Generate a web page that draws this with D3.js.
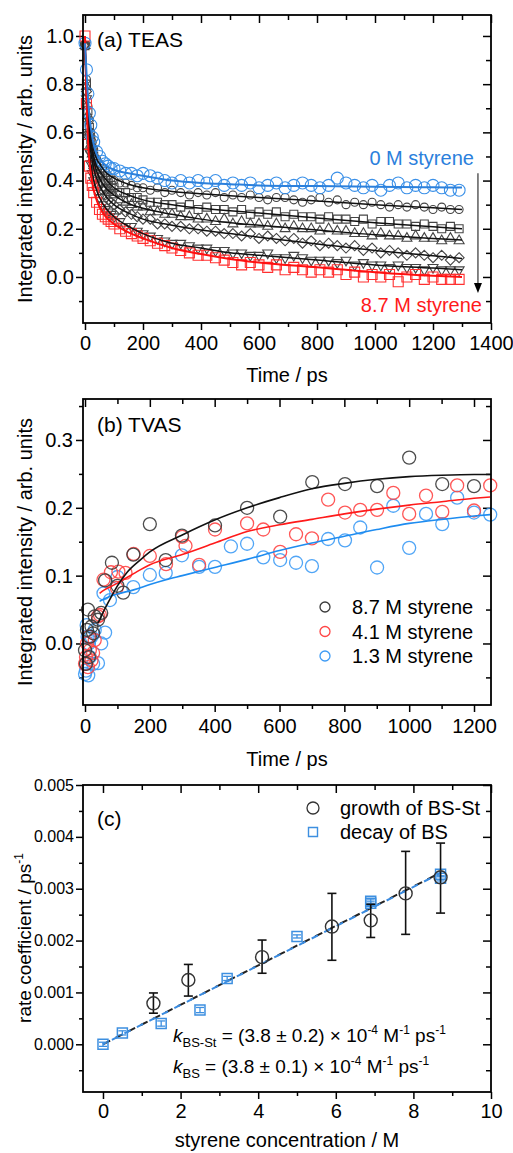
<!DOCTYPE html>
<html><head><meta charset="utf-8">
<script src="https://cdn.jsdelivr.net/npm/d3@7"></script>
<style>body{margin:0;background:#fff}svg{display:block}</style>
</head><body><svg id="c" width="513" height="1153"></svg>
<script>
// ================= DATA =================
// (a) TEAS
const teasTime = [0,5,10,15,20,25,30,40,50,60,70,80,90,100,120,140,160,180,200,225,250,275,300,330,360,390,420,450,480,510,540,570,600,630,660,690,720,750,780,810,840,870,900,930,960,990,1020,1050,1080,1110,1140,1170,1200,1230,1260,1290];
const teas0M = [0.97,0.86,0.76,0.68,0.63,0.58,0.56,0.52,0.50,0.48,0.47,0.46,0.45,0.45,0.44,0.43,0.43,0.42,0.43,0.42,0.41,0.40,0.39,0.40,0.39,0.40,0.39,0.40,0.38,0.39,0.38,0.39,0.37,0.38,0.39,0.37,0.38,0.39,0.38,0.37,0.38,0.41,0.39,0.38,0.37,0.38,0.36,0.38,0.39,0.37,0.38,0.37,0.38,0.37,0.36,0.36];
const teasCircle = [0.96,0.82,0.71,0.65,0.60,0.56,0.53,0.49,0.47,0.45,0.44,0.42,0.41,0.40,0.39,0.39,0.38,0.37,0.37,0.36,0.37,0.35,0.36,0.35,0.34,0.35,0.34,0.35,0.33,0.34,0.33,0.34,0.33,0.32,0.33,0.33,0.32,0.31,0.32,0.33,0.31,0.32,0.30,0.31,0.30,0.31,0.30,0.29,0.30,0.29,0.30,0.29,0.28,0.29,0.28,0.28];
const teasSquare = [0.96,0.80,0.69,0.62,0.57,0.53,0.50,0.46,0.43,0.42,0.40,0.39,0.38,0.37,0.35,0.35,0.33,0.33,0.32,0.31,0.31,0.30,0.30,0.29,0.30,0.28,0.29,0.28,0.28,0.27,0.28,0.26,0.27,0.26,0.27,0.25,0.26,0.25,0.25,0.24,0.25,0.24,0.24,0.23,0.24,0.22,0.23,0.23,0.22,0.22,0.21,0.22,0.21,0.20,0.21,0.20];
const teasTriUp = [0.96,0.79,0.67,0.60,0.55,0.51,0.47,0.44,0.41,0.39,0.37,0.36,0.35,0.34,0.32,0.31,0.30,0.29,0.29,0.27,0.27,0.26,0.26,0.25,0.25,0.24,0.24,0.23,0.24,0.22,0.23,0.22,0.22,0.21,0.22,0.20,0.21,0.20,0.20,0.19,0.20,0.19,0.19,0.18,0.18,0.17,0.18,0.17,0.17,0.16,0.17,0.16,0.16,0.15,0.16,0.15];
const teasDiamond = [0.96,0.77,0.65,0.58,0.52,0.48,0.45,0.41,0.38,0.36,0.34,0.32,0.31,0.30,0.28,0.27,0.26,0.25,0.24,0.24,0.22,0.22,0.21,0.21,0.20,0.20,0.19,0.19,0.18,0.18,0.17,0.18,0.16,0.17,0.16,0.15,0.16,0.14,0.15,0.13,0.14,0.13,0.12,0.13,0.11,0.12,0.10,0.11,0.10,0.09,0.10,0.09,0.08,0.09,0.07,0.08];
const teasTriDown = [0.96,0.74,0.60,0.52,0.47,0.43,0.40,0.36,0.33,0.30,0.28,0.27,0.26,0.25,0.23,0.21,0.21,0.19,0.18,0.17,0.16,0.15,0.14,0.14,0.13,0.12,0.12,0.11,0.11,0.10,0.10,0.09,0.09,0.10,0.08,0.08,0.09,0.08,0.07,0.07,0.07,0.06,0.07,0.05,0.06,0.05,0.05,0.04,0.05,0.04,0.04,0.03,0.04,0.03,0.03,0.03];
const teas87M = [1.00,0.72,0.55,0.46,0.41,0.38,0.35,0.31,0.28,0.26,0.25,0.24,0.23,0.22,0.20,0.19,0.18,0.17,0.16,0.15,0.14,0.13,0.12,0.11,0.10,0.09,0.09,0.08,0.07,0.06,0.05,0.06,0.05,0.04,0.05,0.03,0.04,0.03,0.02,0.03,0.02,0.03,0.01,0.02,0.00,0.01,0.00,0.01,-0.02,0.00,0.01,-0.01,0.00,-0.01,-0.01,-0.01];
const teasFitTime = [0,5,10,15,20,30,40,50,75,100,150,200,300,400,500,600,800,1000,1200,1300];
const teasFit0M = [0.97,0.85,0.75,0.67,0.62,0.55,0.51,0.49,0.46,0.445,0.43,0.42,0.40,0.39,0.385,0.38,0.377,0.374,0.372,0.371];
const teasFitCircle = [0.96,0.82,0.72,0.65,0.60,0.53,0.49,0.47,0.43,0.41,0.385,0.37,0.355,0.345,0.337,0.33,0.315,0.30,0.287,0.28];
const teasFitSquare = [0.96,0.80,0.70,0.62,0.57,0.50,0.46,0.44,0.40,0.37,0.34,0.32,0.30,0.285,0.275,0.265,0.245,0.225,0.208,0.20];
const teasFitTriUp = [0.96,0.79,0.68,0.60,0.55,0.48,0.44,0.41,0.365,0.34,0.305,0.285,0.26,0.24,0.225,0.215,0.195,0.175,0.16,0.153];
const teasFitDiamond = [0.96,0.77,0.66,0.58,0.52,0.45,0.41,0.38,0.33,0.30,0.265,0.24,0.215,0.195,0.18,0.165,0.137,0.11,0.088,0.077];
const teasFitTriDown = [0.96,0.74,0.61,0.52,0.47,0.40,0.36,0.33,0.28,0.25,0.21,0.18,0.14,0.12,0.10,0.09,0.07,0.05,0.037,0.03];
const teasFit87M = [1.0,0.74,0.57,0.48,0.43,0.36,0.32,0.29,0.245,0.22,0.185,0.16,0.12,0.095,0.075,0.06,0.04,0.02,0.005,0.0];
const teasXTicks = [0,200,400,600,800,1000,1200,1400];
const teasXMinor = [100,300,500,700,900,1100,1300];
const teasYTicks = [0,0.2,0.4,0.6,0.8,1.0];
const teasYMinor = [-0.1,0.1,0.3,0.5,0.7,0.9];

// (b) TVAS
const tvasTime87 = [0,3,6,9,12,15,20,25,30,40,50,62,83,100,118,149,200,249,299,401,500,602,701,802,901,1000,1102,1200];
const tvas87 = [-0.01,-0.03,0.02,0.05,-0.02,0.01,0.025,0.015,0.04,0.035,0.045,0.093,0.119,0.085,0.075,0.131,0.176,0.123,0.159,0.174,0.200,0.187,0.238,0.235,0.232,0.274,0.235,0.232];
const tvasTime41 = [0,3,6,9,12,15,20,25,30,40,46,57,80,98,103,125,150,200,250,300,310,352,401,500,550,602,651,700,750,802,849,901,951,1000,1052,1102,1148,1200,1250];
const tvas41 = [-0.03,-0.02,0.0,-0.035,0.01,-0.01,-0.025,-0.014,0.005,0.04,0.042,0.094,0.105,0.082,0.106,0.104,0.132,0.129,0.117,0.157,0.144,0.116,0.168,0.177,0.168,0.135,0.161,0.155,0.212,0.193,0.197,0.197,0.222,0.191,0.218,0.194,0.233,0.196,0.233];
const tvasTime13 = [0,3,5,8,10,12,15,20,25,30,40,50,57,62,77,100,149,200,249,299,352,401,450,500,550,602,651,700,750,802,849,901,951,1000,1052,1102,1148,1200,1250];
const tvas13 = [-0.045,-0.04,0.027,0.01,-0.047,0.0,-0.02,0.01,-0.03,0.02,-0.029,0.0,0.074,0.016,0.064,0.098,0.083,0.101,0.104,0.130,0.113,0.113,0.143,0.147,0.127,0.123,0.119,0.114,0.154,0.152,0.171,0.112,0.203,0.141,0.191,0.176,0.215,0.193,0.190];
const tvasFitTime87 = [40,60,80,100,130,170,200,300,400,500,600,700,800,900,1000,1100,1200,1250];
const tvasFit87 = [0.03,0.05,0.068,0.085,0.105,0.123,0.135,0.160,0.182,0.200,0.215,0.228,0.236,0.242,0.246,0.248,0.249,0.249];
const tvasFitTime41 = [45,60,80,100,150,200,300,400,500,600,700,800,900,1000,1100,1200,1250];
const tvasFit41 = [0.074,0.079,0.084,0.089,0.103,0.116,0.131,0.148,0.165,0.175,0.183,0.191,0.198,0.204,0.209,0.214,0.216];
const tvasFitTime13 = [45,60,80,100,150,200,250,300,400,500,600,700,800,900,1000,1100,1200,1250];
const tvasFit13 = [0.062,0.066,0.070,0.073,0.079,0.087,0.094,0.100,0.112,0.124,0.137,0.148,0.158,0.168,0.177,0.183,0.188,0.190];
const tvasLegend = ["8.7 M styrene","4.1 M styrene","1.3 M styrene"];
const tvasXTicks = [0,200,400,600,800,1000,1200];
const tvasXMinor = [100,300,500,700,900,1100];
const tvasYTicks = [0,0.1,0.2,0.3];
const tvasYMinor = [-0.05,0.05,0.15,0.25,0.35];

// (c) rate coefficients
const growthConc = [1.3,2.2,4.1,5.9,6.9,7.8,8.7];
const growthRate = [0.00079,0.00124,0.00168,0.00227,0.00239,0.00291,0.00322];
const growthErrLo = [0.00060,0.00093,0.00137,0.00162,0.00206,0.00212,0.00253];
const growthErrHi = [0.00099,0.00154,0.00201,0.00291,0.00270,0.00372,0.00388];
const decayConc = [0,0.5,1.5,2.5,3.2,5.0,6.9,6.9,8.7,8.7];
const decayRate = [0.0,0.00022,0.00040,0.00066,0.00127,0.00208,0.00272,0.00276,0.00328,0.00320];
const decayErr = [0.00004,0.00004,0.00005,0.00005,0.00004,0.00003,0.00004,0.00004,0.00005,0.00005];
const fitConc = [0,8.7];
const fitGrowth = [0,0.00331];
const fitDecay = [0,0.00330];
const rateLegend = ["growth of BS-St","decay of BS"];
const rateXTicks = [0,2,4,6,8,10];
const rateXMinor = [1,3,5,7,9];
const rateYTicks = [0,0.001,0.002,0.003,0.004,0.005];
const rateYMinor = [-0.0005,0.0005,0.0015,0.0025,0.0035,0.0045];

// ================= DRAWING =================
const FONT = '"Liberation Sans", Arial, Helvetica, sans-serif';
const svg = d3.select("#c").attr("font-family", FONT);
svg.append("rect").attr("width",513).attr("height",1153).attr("fill","#fff");

function panel(o){
  const x = d3.scaleLinear().domain(o.xd).range([o.l,o.r]);
  const y = d3.scaleLinear().domain(o.yd).range([o.b,o.t]);
  const g = svg.append("g");
  const style = (sel, fs) => {
    sel.select(".domain").remove();
    sel.selectAll("line").attr("stroke","#000").attr("stroke-width",1.5);
    sel.selectAll("text").attr("font-size",fs).attr("font-family",FONT).attr("fill","#000");
  };
  g.append("g").attr("transform",`translate(0,${o.b})`)
    .call(d3.axisBottom(x).tickValues(o.xMaj).tickSize(7).tickPadding(o.xPad).tickFormat(o.xFmt)).call(s=>style(s,o.xFs));
  g.append("g").attr("transform",`translate(0,${o.b})`)
    .call(d3.axisBottom(x).tickValues(o.xMin).tickSize(4).tickFormat("")).call(s=>style(s,10));
  g.append("g").attr("transform",`translate(0,${o.t})`)
    .call(d3.axisTop(x).tickValues(o.xMaj).tickSize(-8).tickFormat("")).call(s=>style(s,10));
  g.append("g").attr("transform",`translate(0,${o.t})`)
    .call(d3.axisTop(x).tickValues(o.xMin).tickSize(-5).tickFormat("")).call(s=>style(s,10));
  g.append("g").attr("transform",`translate(${o.l},0)`)
    .call(d3.axisLeft(y).tickValues(o.yMaj).tickSize(7).tickPadding(o.yPad).tickFormat(o.yFmt)).call(s=>style(s,o.yFs));
  g.append("g").attr("transform",`translate(${o.l},0)`)
    .call(d3.axisLeft(y).tickValues(o.yMin).tickSize(4).tickFormat("")).call(s=>style(s,10));
  g.append("g").attr("transform",`translate(${o.r},0)`)
    .call(d3.axisRight(y).tickValues(o.yMaj).tickSize(-8).tickFormat("")).call(s=>style(s,10));
  g.append("g").attr("transform",`translate(${o.r},0)`)
    .call(d3.axisRight(y).tickValues(o.yMin).tickSize(-5).tickFormat("")).call(s=>style(s,10));
  const data = svg.append("g");
  svg.append("rect").attr("x",o.l).attr("y",o.t).attr("width",o.r-o.l).attr("height",o.b-o.t)
    .attr("fill","none").attr("stroke","#000").attr("stroke-width",1.8);
  return {x,y,data};
}

function shape(type, s){
  const h = s/2;
  if(type==="square") return `M${-h},${-h}h${s}v${s}h${-s}Z`;
  if(type==="triUp"){ const t=s*0.866; return `M0,${-2*t/3}L${h},${t/3}L${-h},${t/3}Z`; }
  if(type==="triDown"){ const t=s*0.866; return `M0,${2*t/3}L${h},${-t/3}L${-h},${-t/3}Z`; }
  if(type==="diamond") return `M0,${-h}L${h},0L0,${h}L${-h},0Z`;
  return d3.arc()({innerRadius:0,outerRadius:h,startAngle:0,endAngle:2*Math.PI});
}

// ---------- panel (a) ----------
{
  const P = panel({l:83,r:491,t:15,b:323, xd:[-6.9,1400], yd:[-0.191,1.087],
    xMaj:teasXTicks, xMin:teasXMinor, yMaj:teasYTicks, yMin:teasYMinor,
    xFmt:d3.format("d"), yFmt:d3.format(".1f"), xPad:6, yPad:2, xFs:20, yFs:20});
  const {x,y,data} = P;
  const series = [
    {v:teasCircle, f:teasFitCircle, type:"circle", s:8, c:"#454545", lc:"#111", lw:1.5},
    {v:teasSquare, f:teasFitSquare, type:"square", s:8, c:"#454545", lc:"#111", lw:1.5},
    {v:teasTriUp, f:teasFitTriUp, type:"triUp", s:10, c:"#454545", lc:"#111", lw:1.5},
    {v:teasDiamond, f:teasFitDiamond, type:"diamond", s:10, c:"#454545", lc:"#111", lw:1.5},
    {v:teasTriDown, f:teasFitTriDown, type:"triDown", s:10, c:"#454545", lc:"#111", lw:1.5},
    {v:teas87M, f:teasFit87M, type:"square", s:10, c:"#ff3030", lc:"#ff1010", lw:2},
    {v:teas0M, f:teasFit0M, type:"circle", s:12, c:"#3a90e8", lc:"#2b80dc", lw:2}
  ];
  series.forEach(se=>{
    data.append("g").selectAll("path").data(teasTime.map((t,i)=>[t,se.v[i]])).join("path")
      .attr("transform",d=>`translate(${x(d[0])},${y(d[1])})`)
      .attr("d",shape(se.type,se.s)).attr("fill","none").attr("stroke",se.c).attr("stroke-width",1.1);
  });
  const line = d3.line().x(d=>x(d[0])).y(d=>y(d[1])).curve(d3.curveMonotoneX);
  series.forEach(se=>{
    data.append("path").datum(teasFitTime.map((t,i)=>[t,se.f[i]])).attr("d",line)
      .attr("fill","none").attr("stroke",se.lc).attr("stroke-width",se.lw);
  });
  svg.append("text").attr("x",97).attr("y",47).attr("font-size",21).text("(a) TEAS");
  svg.append("text").attr("x",x(1341)).attr("y",y(0.465)).attr("text-anchor","end").attr("font-size",20)
    .attr("fill","#2b80dc").text("0 M styrene");
  svg.append("text").attr("x",x(1369)).attr("y",y(-0.145)).attr("text-anchor","end").attr("font-size",20)
    .attr("fill","#ff1a1a").text("8.7 M styrene");
  const ax = x(1355), ay1 = y(0.43), ay2 = y(-0.067);
  svg.append("line").attr("x1",ax).attr("x2",ax).attr("y1",ay1).attr("y2",ay2-8).attr("stroke","#333").attr("stroke-width",1.2);
  svg.append("path").attr("d",`M${ax},${ay2}L${ax-4},${ay2-10}L${ax+4},${ay2-10}Z`).attr("fill","#000");
  svg.append("text").attr("transform",`translate(32,169) rotate(-90)`).attr("text-anchor","middle")
    .attr("font-size",20).text("Integrated intensity / arb. units");
  svg.append("text").attr("x",287).attr("y",382).attr("text-anchor","middle").attr("font-size",20).text("Time / ps");
}

// ---------- panel (b) ----------
{
  const P = panel({l:83,r:491,t:399,b:705, xd:[-6.2,1252.4], yd:[-0.0907,0.3604],
    xMaj:tvasXTicks, xMin:tvasXMinor, yMaj:tvasYTicks, yMin:tvasYMinor,
    xFmt:d3.format("d"), yFmt:d3.format(".1f"), xPad:7, yPad:3, xFs:20, yFs:20});
  const {x,y,data} = P;
  const sets = [
    {t:tvasTime13, v:tvas13, ft:tvasFitTime13, f:tvasFit13, c:"#3d9bf5", lc:"#1e8cf0"},
    {t:tvasTime41, v:tvas41, ft:tvasFitTime41, f:tvasFit41, c:"#ff4545", lc:"#ff1a1a"},
    {t:tvasTime87, v:tvas87, ft:tvasFitTime87, f:tvasFit87, c:"#3a3a3a", lc:"#111"}
  ];
  sets.forEach(se=>{
    data.append("g").selectAll("circle").data(se.t.map((t,i)=>[t,se.v[i]])).join("circle")
      .attr("cx",d=>x(d[0])).attr("cy",d=>y(d[1])).attr("r",6.5)
      .attr("fill","none").attr("stroke",se.c).attr("stroke-width",1.3).attr("stroke-opacity",0.9);
  });
  const line = d3.line().x(d=>x(d[0])).y(d=>y(d[1])).curve(d3.curveMonotoneX);
  sets.forEach(se=>{
    data.append("path").datum(se.ft.map((t,i)=>[t,se.f[i]])).attr("d",line)
      .attr("fill","none").attr("stroke",se.lc).attr("stroke-width",1.6);
  });
  const legC = ["#3a3a3a","#ff4545","#3d9bf5"];
  tvasLegend.forEach((lab,i)=>{
    const cy = 607 + i*24.5;
    svg.append("circle").attr("cx",325).attr("cy",cy).attr("r",5).attr("fill","none")
      .attr("stroke",legC[i]).attr("stroke-width",1.3);
    svg.append("text").attr("x",352).attr("y",cy+7).attr("font-size",20).text(lab);
  });
  svg.append("text").attr("x",97).attr("y",432).attr("font-size",21).text("(b) TVAS");
  svg.append("text").attr("transform",`translate(32,552) rotate(-90)`).attr("text-anchor","middle")
    .attr("font-size",20).text("Integrated intensity / arb. units");
  svg.append("text").attr("x",287).attr("y",766).attr("text-anchor","middle").attr("font-size",20).text("Time / ps");
}

// ---------- panel (c) ----------
{
  const P = panel({l:83,r:491,t:785,b:1092, xd:[-0.515,10], yd:[-0.00092,0.005],
    xMaj:rateXTicks, xMin:rateXMinor, yMaj:rateYTicks, yMin:rateYMinor,
    xFmt:d3.format("d"), yFmt:d3.format(".3f"), xPad:5, yPad:2, xFs:20, yFs:16});
  const {x,y,data} = P;
  const line = d3.line().x(d=>x(d[0])).y(d=>y(d[1]));
  data.append("path").datum(fitConc.map((c,i)=>[c,fitGrowth[i]])).attr("d",line)
    .attr("fill","none").attr("stroke","#222").attr("stroke-width",2).attr("stroke-dasharray","8,6");
  data.append("path").datum(fitConc.map((c,i)=>[c,fitDecay[i]])).attr("d",line)
    .attr("fill","none").attr("stroke","#3a8be0").attr("stroke-width",2).attr("stroke-dasharray","7,7").attr("stroke-dashoffset",4);
  const blue = "#3d8fe0";
  const dg = data.append("g");
  decayConc.forEach((c,i)=>{
    const cx = x(c), cy = y(decayRate[i]);
    const y1 = y(decayRate[i]-decayErr[i]), y2 = y(decayRate[i]+decayErr[i]);
    dg.append("line").attr("x1",cx).attr("x2",cx).attr("y1",y1).attr("y2",y2).attr("stroke",blue).attr("stroke-width",1.3);
    dg.append("line").attr("x1",cx-4).attr("x2",cx+4).attr("y1",y1).attr("y2",y1).attr("stroke",blue).attr("stroke-width",1.3);
    dg.append("line").attr("x1",cx-4).attr("x2",cx+4).attr("y1",y2).attr("y2",y2).attr("stroke",blue).attr("stroke-width",1.3);
    dg.append("path").attr("transform",`translate(${cx},${cy})`).attr("d",shape("square",10))
      .attr("fill","none").attr("stroke",blue).attr("stroke-width",1.5);
  });
  const gg = data.append("g");
  growthConc.forEach((c,i)=>{
    const cx = x(c), yl = y(growthErrLo[i]), yh = y(growthErrHi[i]);
    gg.append("line").attr("x1",cx).attr("x2",cx).attr("y1",yl).attr("y2",yh).attr("stroke","#111").attr("stroke-width",1.6);
    [yl,yh].forEach(yy=>gg.append("line").attr("x1",cx-4.5).attr("x2",cx+4.5).attr("y1",yy).attr("y2",yy).attr("stroke","#111").attr("stroke-width",1.6));
    gg.append("circle").attr("cx",cx).attr("cy",y(growthRate[i])).attr("r",6.5)
      .attr("fill","none").attr("stroke","#333").attr("stroke-width",1.4);
  });
  svg.append("circle").attr("cx",313).attr("cy",808).attr("r",6).attr("fill","none").attr("stroke","#333").attr("stroke-width",1.3);
  svg.append("text").attr("x",340).attr("y",815).attr("font-size",20).text(rateLegend[0]);
  svg.append("path").attr("transform","translate(313,832)").attr("d",shape("square",9)).attr("fill","none").attr("stroke",blue).attr("stroke-width",1.4);
  svg.append("text").attr("x",340).attr("y",839).attr("font-size",20).text(rateLegend[1]);
  svg.append("text").attr("x",97).attr("y",826).attr("font-size",21).text("(c)");
  function eq(yb, sub, val){
    const t = svg.append("text").attr("x",173).attr("y",yb).attr("font-size",19);
    t.append("tspan").attr("font-style","italic").text("k");
    t.append("tspan").attr("font-size",13).attr("dy",5).text(sub);
    t.append("tspan").attr("dy",-5).text(` = (${val}) × 10`);
    t.append("tspan").attr("font-size",12).attr("dy",-8).text("-4");
    t.append("tspan").attr("dy",8).text(" M");
    t.append("tspan").attr("font-size",12).attr("dy",-8).text("-1");
    t.append("tspan").attr("dy",8).text(" ps");
    t.append("tspan").attr("font-size",12).attr("dy",-8).text("-1");
  }
  eq(1042, "BS-St", "3.8 ± 0.2");
  eq(1073, "BS", "3.8 ± 0.1");
  const yt = svg.append("text").attr("transform",`translate(31,938) rotate(-90)`).attr("text-anchor","middle").attr("font-size",19);
  yt.append("tspan").text("rate coefficient / ps");
  yt.append("tspan").attr("font-size",12).attr("dy",-8).text("-1");
  svg.append("text").attr("x",287).attr("y",1147).attr("text-anchor","middle").attr("font-size",20).text("styrene concentration / M");
}
</script>
</body></html>
